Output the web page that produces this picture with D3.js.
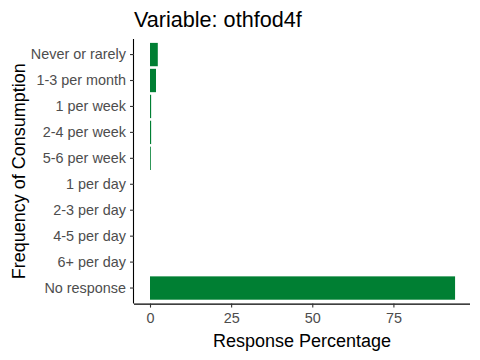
<!DOCTYPE html>
<html><head><meta charset="utf-8">
<script src="https://cdn.jsdelivr.net/npm/d3@7"></script>
<style>body{margin:0;background:#fff;} svg{display:block;font-family:"Liberation Sans",Arial,sans-serif;}</style>
</head><body>
<svg id="c" width="480" height="360"></svg>
<script>
const categories = ["Never or rarely","1-3 per month","1 per week","2-4 per week","5-6 per week","1 per day","2-3 per day","4-5 per day","6+ per day","No response"];
const values = [2.4, 1.85, 0.35, 0.35, 0.25, 0, 0, 0, 0, 94.0];
const xTicks = [0, 25, 50, 75];
const xDomain = [-4.93, 98.6];
const title = "Variable: othfod4f";
const xTitle = "Response Percentage";
const yTitle = "Frequency of Consumption";

const svg = d3.select("#c");
const L = 134, R = 470, T = 39, B = 303.6;
const x = d3.scaleLinear().domain(xDomain).range([L, R]);
const y = d3.scaleBand().domain(categories).range([T, B]).paddingInner(0.1).paddingOuter(0.15);

svg.append("g").selectAll("rect").data(categories).join("rect")
  .attr("x", (d,i) => x(Math.min(0, values[i])))
  .attr("y", d => y(d))
  .attr("width", (d,i) => Math.abs(x(values[i]) - x(0)))
  .attr("height", y.bandwidth())
  .attr("fill", "#007F33");

const xa = svg.append("g").attr("transform", `translate(0,${B})`)
  .call(d3.axisBottom(x).tickValues(xTicks).tickSize(4).tickPadding(5).tickFormat(d3.format("d")));
const ya = svg.append("g").attr("transform", `translate(${L},0)`)
  .call(d3.axisLeft(y).tickSize(4).tickPadding(4));
[xa, ya].forEach(a => {
  a.select(".domain").attr("stroke", "#000").attr("stroke-width", 1.1);
  a.selectAll(".tick line").attr("stroke", "#333").attr("stroke-width", 1.1);
  a.selectAll(".tick text").attr("fill", "#4D4D4D").style("font-size", "14.4px").style("font-family", "Liberation Sans, Arial, sans-serif");
});
xa.select(".domain").attr("d", `M${L},0.5H${R}`);
ya.select(".domain").attr("d", `M-0.5,${T}V${B}`);

svg.append("text").attr("x", L).attr("y", 27).text(title)
  .style("font-size", "21.6px").attr("fill", "#000");
svg.append("text").attr("x", (L+R)/2).attr("y", 347).attr("text-anchor", "middle")
  .text(xTitle).style("font-size", "18px").attr("fill", "#000");
svg.append("text").attr("transform", `translate(25,${(T+B)/2}) rotate(-90)`).attr("text-anchor", "middle")
  .text(yTitle).style("font-size", "18px").attr("fill", "#000");
</script>
</body></html>
